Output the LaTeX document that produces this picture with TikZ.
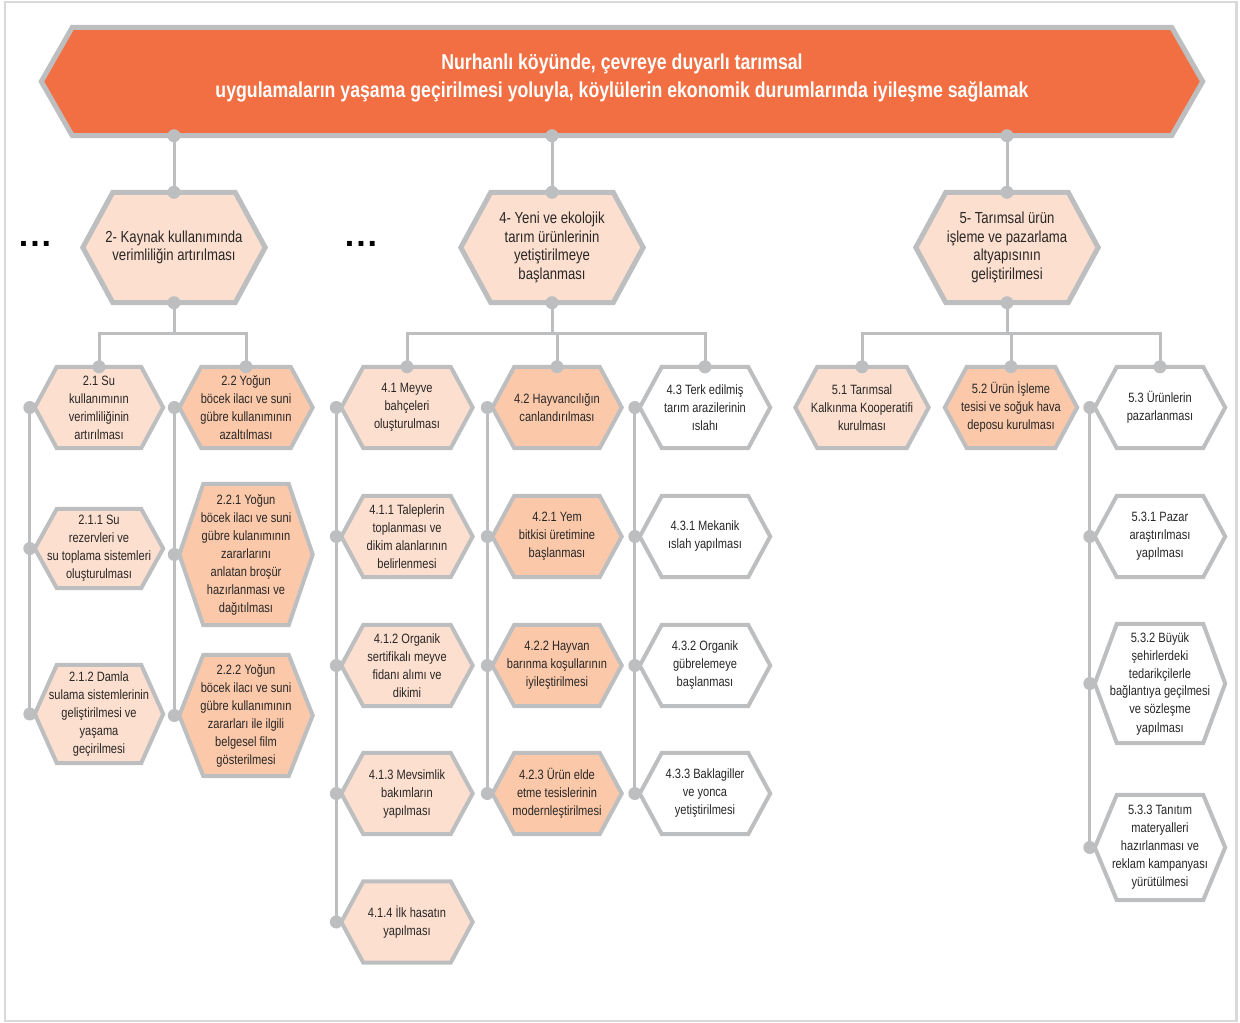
\documentclass[tikz,border=0pt]{standalone}
\usepackage{fontspec}
\setmainfont[FakeStretch=0.82]{Liberation Sans}
\newfontfamily\dotfnt{Liberation Sans}
\usetikzlibrary{backgrounds,calc}
\definecolor{bannerfill}{RGB}{242,111,67}
\definecolor{edgegray}{RGB}{189,190,192}
\definecolor{peachlight}{RGB}{252,223,206}
\definecolor{peachdark}{RGB}{251,201,170}
\definecolor{txtgray}{RGB}{40,38,38}
\definecolor{framegray}{RGB}{217,217,217}
\newcommand\bdyfnt{\fontsize{13.5}{18}\selectfont}
\newcommand\lvlfnt{\fontsize{16}{18.5}\selectfont}
\newcommand\ttlfnt{\bfseries\fontsize{21.6}{28}\selectfont}
\newcommand\hexback[3]{%
  \begin{pgfonlayer}{background}
  \path[#2] (#1.west) -- ([xshift=#3]#1.north west) -- ([xshift=-#3]#1.north east)
   -- (#1.east) -- ([xshift=-#3]#1.south east) -- ([xshift=#3]#1.south west) -- cycle;
  \end{pgfonlayer}}
\tikzset{
  hexn/.style 2 args={minimum width=#1pt, minimum height=#2pt, inner sep=0pt,
     align=center, text=txtgray, font=\bdyfnt},
  lvln/.style 2 args={minimum width=#1pt, minimum height=#2pt, inner sep=0pt,
     align=center, text=txtgray, font=\lvlfnt},
  hexlight/.style={draw=edgegray, line width=4pt, fill=peachlight, line join=miter},
  hexdark/.style={draw=edgegray, line width=4pt, fill=peachdark, line join=miter},
  hexwhite/.style={draw=edgegray, line width=4pt, fill=white, line join=miter},
  hexlvl/.style={draw=edgegray, line width=5pt, fill=peachlight, line join=miter},
  hexbanner/.style={draw=edgegray, line width=5pt, fill=bannerfill, line join=miter},
  conn/.style={draw=edgegray, line width=3pt},
  dotc/.style={fill=edgegray},
  ellip/.style={inner sep=0pt, text=black, font=\dotfnt\bfseries\fontsize{34}{34}\selectfont},
}
\begin{document}
\begin{tikzpicture}[x=1pt,y=-1pt]
\useasboundingbox (0,0) rectangle (1240,1023);
\draw[framegray, line width=2.5pt] (5,2) rectangle (1236.5,1021);

% banner
\node[minimum width=1161pt, minimum height=108pt, inner sep=0pt, align=center,
      text=white, font=\ttlfnt, text depth=11pt] (banner) at (622,81.5)
  {Nurhanlı köyünde, çevreye duyarlı tarımsal\\uygulamaların yaşama geçirilmesi yoluyla, köylülerin ekonomik durumlarında iyileşme sağlamak};
\hexback{banner}{hexbanner}{31pt}

% level 1
\node[lvln={182}{110}] (h2) at (174,247.5) {2- Kaynak kullanımında\\verimliliğin artırılması};
\hexback{h2}{hexlvl}{30pt}
\node[lvln={182}{110}] (h4) at (552,247.5) {4- Yeni ve ekolojik\\tarım ürünlerinin\\yetiştirilmeye\\başlanması};
\hexback{h4}{hexlvl}{30pt}
\node[lvln={182}{110}] (h5) at (1007,247.5) {5- Tarımsal ürün\\işleme ve pazarlama\\altyapısının\\geliştirilmesi};
\hexback{h5}{hexlvl}{30pt}

\node[ellip] (ell1) at (35,243.5) {.\kern2pt.\kern2pt.};
\node[ellip] (ell2) at (361,243.5) {.\kern2pt.\kern2pt.};

% group 2
\node[hexn={128}{81}] (n21) at (99,407.5) {2.1 Su\\kullanımının\\verimliliğinin\\artırılması};
\hexback{n21}{hexlight}{22pt}
\node[hexn={128}{79}] (n211) at (99,548.5) {2.1.1 Su\\rezervleri ve\\su toplama sistemleri\\oluşturulması};
\hexback{n211}{hexlight}{22pt}
\node[hexn={128}{98}] (n212) at (99,714) {2.1.2 Damla\\sulama sistemlerinin\\geliştirilmesi ve\\yaşama\\geçirilmesi};
\hexback{n212}{hexlight}{22pt}

\node[hexn={133}{81}] (n22) at (246,407.5) {2.2 Yoğun\\böcek ilacı ve suni\\gübre kullanımının\\azaltılması};
\hexback{n22}{hexdark}{22pt}
\node[hexn={133}{141}] (n221) at (246,554.5) {2.2.1 Yoğun\\böcek ilacı ve suni\\gübre kulanımının\\zararlarını\\anlatan broşür\\hazırlanması ve\\dağıtılması};
\hexback{n221}{hexdark}{24pt}
\node[hexn={133}{121}] (n222) at (246,715.5) {2.2.2 Yoğun\\böcek ilacı ve suni\\gübre kullanımının\\zararları ile ilgili\\belgesel film\\gösterilmesi};
\hexback{n222}{hexdark}{24pt}

% group 4
\node[hexn={131}{81}] (n41) at (407,407.5) {4.1 Meyve\\bahçeleri\\oluşturulması};
\hexback{n41}{hexlight}{22pt}
\node[hexn={131}{81}] (n411) at (407,536.5) {4.1.1 Taleplerin\\toplanması ve\\dikim alanlarının\\belirlenmesi};
\hexback{n411}{hexlight}{22pt}
\node[hexn={131}{81}] (n412) at (407,665.5) {4.1.2 Organik\\sertifikalı meyve\\fidanı alımı ve\\dikimi};
\hexback{n412}{hexlight}{22pt}
\node[hexn={131}{81}] (n413) at (407,793.5) {4.1.3 Mevsimlik\\bakımların\\yapılması};
\hexback{n413}{hexlight}{22pt}
\node[hexn={131}{81}] (n414) at (407,922) {4.1.4 İlk hasatın\\yapılması};
\hexback{n414}{hexlight}{22pt}

\node[hexn={129}{81}] (n42) at (557,407.5) {4.2 Hayvancılığın\\canlandırılması};
\hexback{n42}{hexdark}{22pt}
\node[hexn={129}{81}] (n421) at (557,536.5) {4.2.1 Yem\\bitkisi üretimine\\başlanması};
\hexback{n421}{hexdark}{22pt}
\node[hexn={129}{81}] (n422) at (557,665.5) {4.2.2 Hayvan\\barınma koşullarının\\iyileştirilmesi};
\hexback{n422}{hexdark}{22pt}
\node[hexn={129}{81}] (n423) at (557,793.5) {4.2.3 Ürün elde\\etme tesislerinin\\modernleştirilmesi};
\hexback{n423}{hexdark}{22pt}

\node[hexn={130}{81}] (n43) at (705,407.5) {4.3 Terk edilmiş\\tarım arazilerinin\\ıslahı};
\hexback{n43}{hexwhite}{22pt}
\node[hexn={130}{81}] (n431) at (705,536.5) {4.3.1 Mekanik\\ıslah yapılması};
\hexback{n431}{hexwhite}{22pt}
\node[hexn={130}{81}] (n432) at (705,665.5) {4.3.2 Organik\\gübrelemeye\\başlanması};
\hexback{n432}{hexwhite}{22pt}
\node[hexn={130}{81}] (n433) at (705,793.5) {4.3.3 Baklagiller\\ve yonca\\yetiştirilmesi};
\hexback{n433}{hexwhite}{22pt}

% group 5
\node[hexn={133}{81}] (n51) at (862,407.5) {5.1 Tarımsal\\Kalkınma Kooperatifi\\kurulması};
\hexback{n51}{hexlight}{22pt}
\node[hexn={132}{81}] (n52) at (1011,407.5) {5.2 Ürün İşleme\\tesisi ve soğuk hava\\deposu kurulması};
\hexback{n52}{hexdark}{22pt}
\node[hexn={130}{81}] (n53) at (1160,407.5) {5.3 Ürünlerin\\pazarlanması};
\hexback{n53}{hexwhite}{22pt}
\node[hexn={130}{81}] (n531) at (1160,536.5) {5.3.1 Pazar\\araştırılması\\yapılması};
\hexback{n531}{hexwhite}{22pt}
\node[hexn={130}{119}] (n532) at (1160,683.5) {5.3.2 Büyük\\şehirlerdeki\\tedarikçilerle\\bağlantıya geçilmesi\\ve sözleşme\\yapılması};
\hexback{n532}{hexwhite}{22pt}
\node[hexn={130}{105}] (n533) at (1160,847.5) {5.3.3 Tanıtım\\materyalleri\\hazırlanması ve\\reklam kampanyası\\yürütülmesi};
\hexback{n533}{hexwhite}{22pt}

% connectors banner -> level 1
\foreach \h in {h2,h4,h5}{
  \draw[conn] (\h.north |- banner.south) -- (\h.north);
  \fill[dotc] (\h.north |- banner.south) circle[radius=6.5pt];
  \fill[dotc] (\h.north) circle[radius=6.5pt];
  \fill[dotc] (\h.south) circle[radius=6.5pt];
}
% level 1 -> level 2
\foreach \p/\c in {h2/n21,h2/n22,h4/n41,h4/n42,h4/n43,h5/n51,h5/n52,h5/n53}{
  \draw[conn] (\p.south) -- ++(0,31) -| (\c.north);
  \fill[dotc] (\c.north) circle[radius=6.5pt];
}
% spines
\foreach \a/\b in {n21/n212,n22/n222,n41/n414,n42/n423,n43/n433,n53/n533}{
  \draw[conn] ([xshift=-5pt]\a.west) -- ([xshift=-5pt]\b.west);
}
\foreach \n in {n21,n211,n212,n22,n221,n222,n41,n411,n412,n413,n414,n42,n421,n422,n423,n43,n431,n432,n433,n53,n531,n532,n533}{
  \fill[dotc] ([xshift=-5pt]\n.west) circle[radius=6.5pt];
}
\end{tikzpicture}
\end{document}
